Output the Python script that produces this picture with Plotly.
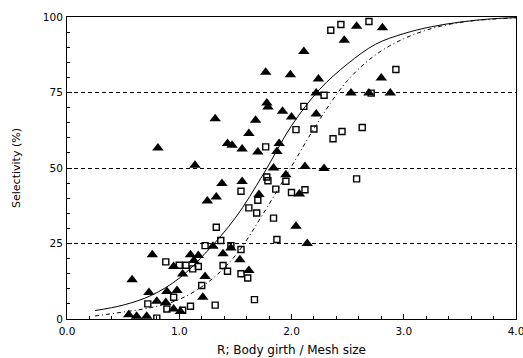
import plotly.graph_objects as go

# Observed selectivity, filled triangles (R, %)
tri_r = [0.81, 1.14, 1.32, 1.77, 2.11, 2.47, 2.58, 2.81, 1.99, 2.24, 2.80,
         2.22, 2.53, 2.69, 2.88, 1.78, 1.79, 1.92, 2.00, 2.22, 1.68, 1.62,
         1.43, 1.47, 1.56, 1.70, 1.89, 1.87, 1.84, 2.12, 2.29, 1.95, 1.38,
         1.56, 1.33, 1.25, 1.71, 2.07, 2.04, 2.14, 1.30, 1.39, 1.46, 1.54,
         0.76, 0.58, 1.10, 1.17, 1.13, 0.95, 1.03, 1.23, 1.62, 1.21, 0.73,
         0.89, 0.98, 0.80, 0.88, 0.95, 1.01, 0.55, 0.62, 0.71]
tri_s = [56.6, 50.9, 66.3, 81.7, 88.6, 92.3, 96.9, 96.4, 80.9, 79.5, 79.8,
         74.8, 74.8, 74.8, 74.8, 71.5, 70.2, 68.8, 66.9, 67.9, 65.8, 61.4,
         58.1, 57.5, 56.3, 55.3, 58.1, 55.5, 50.0, 50.5, 49.8, 47.8, 44.9,
         45.5, 40.4, 39.1, 41.2, 41.4, 30.7, 25.0, 24.1, 21.6, 23.5, 19.6,
         21.3, 13.0, 21.3, 21.0, 19.4, 17.4, 14.9, 14.1, 16.1, 7.2, 8.8,
         9.1, 9.4, 5.9, 5.5, 3.3, 2.5, 1.4, 0.9, 0.9]

# Observed selectivity, open squares (R, %)
sq_r = [2.44, 2.35, 2.69, 2.93, 2.29, 2.71, 2.11, 2.04, 2.20, 2.37, 2.45,
        2.63, 1.77, 1.78, 1.79, 1.95, 1.86, 2.00, 2.12, 2.58, 1.55, 1.70,
        1.62, 1.69, 1.84, 1.33, 1.87, 1.37, 1.23, 1.46, 1.55, 1.39, 1.43,
        1.55, 1.61, 0.88, 1.00, 1.06, 1.12, 1.17, 1.20, 1.67, 1.32, 1.10,
        1.03, 0.89, 0.95, 0.72, 0.80]
sq_s = [97.5, 95.6, 98.5, 82.6, 74.1, 74.8, 70.4, 62.7, 62.9, 59.7, 62.1,
        63.4, 57.0, 47.0, 45.8, 45.6, 43.0, 41.9, 42.8, 46.4, 42.3, 39.3,
        36.8, 35.1, 33.4, 30.4, 26.3, 26.0, 24.3, 24.3, 23.0, 17.7, 15.8,
        15.0, 13.6, 18.9, 17.8, 17.8, 16.6, 17.4, 11.1, 6.4, 4.6, 4.2,
        2.9, 3.3, 7.2, 5.0, 0.3]

# Fitted selectivity curves
fit_r = [0.25, 0.5, 0.75, 1.0, 1.25, 1.5, 1.75, 2.0, 2.25, 2.5, 2.75,
         3.0, 3.25, 3.5, 3.75, 4.0]
fit_solid = [2.8, 4.6, 7.8, 13.5, 22.5, 33.5, 48.0, 64.0, 76.0, 84.5, 91.0,
             94.5, 96.8, 98.3, 99.3, 99.8]
fit_dotted = [1.0, 2.3, 3.8, 6.5, 12.0, 21.0, 35.0, 50.5, 66.0, 79.0, 87.5,
              92.8, 96.2, 98.2, 99.2, 99.7]

x_ticks = [0, 1, 2, 3, 4]
x_labels = ["0.0", "1.0", "2.0", "3.0", "4.0"]
y_ticks = [0, 25, 50, 75, 100]
y_labels = ["0", "25", "50", "75", "100"]

INK = "#000000"
FONT = "DejaVu Sans"

fig = go.Figure()
fig.add_trace(go.Scatter(x=fit_r, y=fit_solid, mode="lines",
                         line=dict(color=INK, width=1, shape="spline"),
                         hoverinfo="skip"))
fig.add_trace(go.Scatter(x=fit_r, y=fit_dotted, mode="lines",
                         line=dict(color=INK, width=1, shape="spline",
                                   dash="4px,3px,1px,3px"),
                         hoverinfo="skip"))
fig.add_trace(go.Scatter(x=sq_r, y=sq_s, mode="markers",
                         marker=dict(symbol="square-open", size=6,
                                     color=INK, line=dict(width=1.4, color=INK))))
fig.add_trace(go.Scatter(x=tri_r, y=tri_s, mode="markers",
                         marker=dict(symbol="triangle-up", size=10, color=INK,
                                     line=dict(width=0))))

fig.update_layout(
    width=523, height=358,
    margin=dict(l=67, r=7, t=17, b=39),
    paper_bgcolor="white", plot_bgcolor="white",
    showlegend=False,
    font=dict(family=FONT, size=10, color=INK),
)
fig.update_xaxes(
    range=[0, 4], tickvals=x_ticks, ticktext=x_labels,
    ticklabeloverflow="allow", automargin=False, ticklabelstandoff=2,
    showline=True, linecolor=INK, linewidth=1, mirror=True,
    ticks="inside", ticklen=5, tickcolor=INK,
    minor=dict(dtick=0.2, ticks="inside", ticklen=3, tickcolor=INK),
    showgrid=False, zeroline=False,
    tickfont=dict(size=10.5, color=INK),
    title=dict(text="R; Body girth / Mesh size",
               font=dict(size=12, color=INK), standoff=10),
)
fig.update_yaxes(
    range=[0, 100], tickvals=y_ticks, ticktext=y_labels,
    automargin=False, ticklabelstandoff=1,
    showline=True, linecolor=INK, linewidth=1, mirror=True,
    ticks="inside", ticklen=5, tickcolor=INK,
    minor=dict(dtick=5, ticks="inside", ticklen=3, tickcolor=INK),
    showgrid=True, gridcolor=INK, gridwidth=1, griddash="4px,3px",
    zeroline=False,
    tickfont=dict(size=10.5, color=INK),
    title=dict(text="Selectivity (%)", font=dict(size=11, color=INK),
               standoff=20),
)

fig.write_html("out.html")
